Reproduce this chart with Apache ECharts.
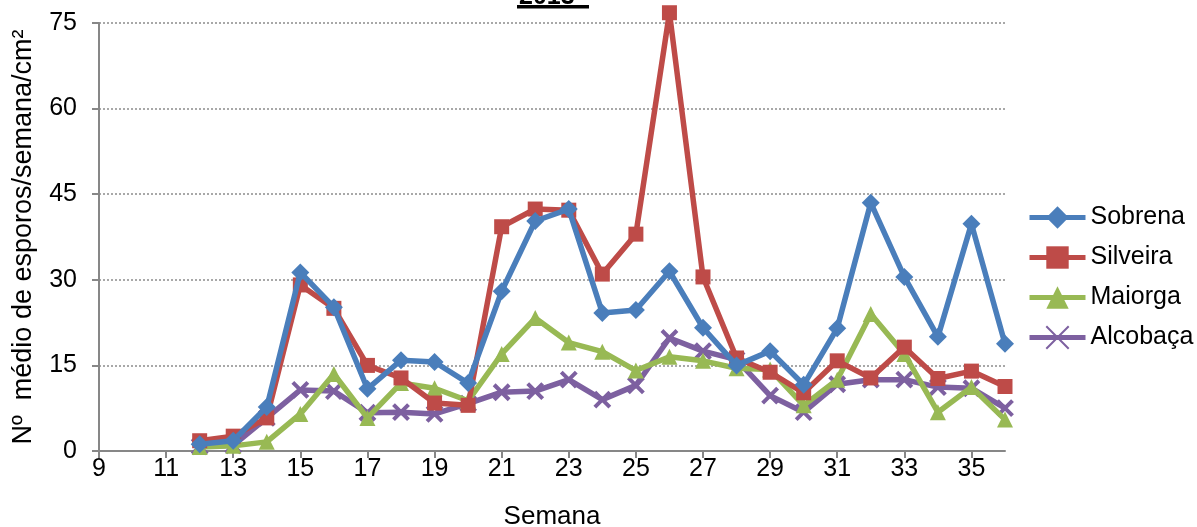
<!DOCTYPE html>
<html><head><meta charset="utf-8">
<script src="https://cdn.jsdelivr.net/npm/echarts@6/dist/echarts.min.js"></script>
<style>html,body{margin:0;padding:0;background:#fff}#c{width:1197px;height:527px}</style>
</head><body><div id="c"></div>
<script>
const weeks = [9,10,11,12,13,14,15,16,17,18,19,20,21,22,23,24,25,26,27,28,29,30,31,32,33,34,35,36];
const sobrena  = [null,null,null,1.2,1.8,7.7,31.3,25.2,10.9,15.9,15.6,11.9,28.0,40.3,42.4,24.2,24.7,31.5,21.6,15.0,17.5,11.6,21.5,43.5,30.5,20.0,39.8,18.8];
const silveira = [null,null,null,1.8,2.6,5.8,29.1,25.0,15.0,12.8,8.4,8.0,39.3,42.4,42.2,31.0,38.0,76.8,30.5,16.3,13.8,10.2,15.8,12.8,18.2,12.7,14.0,11.3];
const maiorga  = [null,null,null,0.7,0.9,1.6,6.5,13.5,5.8,11.9,11.0,8.8,17.0,23.3,19.0,17.4,14.1,16.5,15.8,14.5,14.3,8.0,12.5,24.0,17.0,6.8,11.2,5.5];
const alcobaca = [null,null,null,0.8,1.0,5.8,10.7,10.5,6.7,6.8,6.5,8.3,10.3,10.5,12.5,9.0,11.5,19.8,17.5,16.0,9.7,6.8,11.7,12.5,12.5,11.2,11.0,7.5];
const seriesNames = ['Sobrena','Silveira','Maiorga','Alcobaça'];
const colors = ['#4A7EBB','#BE4B48','#98B954','#7D60A0'];
const symbols = ['diamond','rect','triangle','path://M0,0 L2,2 M2,0 L0,2'];
const symbolSizes = [18,15,16,15];
const dataSets = [sobrena, silveira, maiorga, alcobaca];

const chart = echarts.init(document.getElementById('c'));
const font = 'Arial, "Liberation Sans", sans-serif';
chart.setOption({
  animation:false,
  grid:{left:99,right:192,top:23,bottom:76,containLabel:false,outerBoundsMode:'none'},
  legend:{
    orient:'vertical', left:1022, top:200, itemGap:15, itemWidth:56, itemHeight:28,
    textStyle:{fontFamily:font,fontSize:25,color:'#000'},
    lineStyle:{width:5},
    data:seriesNames
  },
  xAxis:{
    type:'category', data:weeks.map(String), boundaryGap:false,
    name:'Semana', nameLocation:'middle', nameGap:53,
    nameTextStyle:{fontFamily:font,fontSize:26,color:'#000'},
    axisLine:{lineStyle:{color:'#878787',width:2}},
    axisTick:{show:true,interval:1,length:7,lineStyle:{color:'#878787',width:2}},
    axisLabel:{interval:1,fontFamily:font,fontSize:25,color:'#000',margin:6},
    splitLine:{show:false}
  },
  yAxis:{
    type:'value', min:0, max:75, interval:15,
    name:'Nº  médio de esporos/semana/cm²', nameLocation:'middle', nameGap:62, nameRotate:90,
    nameTextStyle:{fontFamily:font,fontSize:27,color:'#000'},
    axisLine:{show:true,lineStyle:{color:'#878787',width:2}},
    axisTick:{show:true,length:7,lineStyle:{color:'#878787',width:2}},
    axisLabel:{fontFamily:font,fontSize:25,color:'#000',margin:22},
    splitLine:{show:true,lineStyle:{color:'#8c8c8c',type:[2,2],width:1.5}}
  },
  graphic:[
    {type:'text',left:519,top:-15,style:{text:'2013',fontFamily:font,fontSize:25,fontWeight:'bold',fill:'#000'}},
    {type:'rect',shape:{x:517,y:5,width:72,height:3.5},style:{fill:'#000'}}
  ],
  series:dataSets.map((d,i)=>({
    name:seriesNames[i], type:'line', data:d, connectNulls:false, clip:false,
    symbol:symbols[i], symbolSize:symbolSizes[i],
    itemStyle:{color:colors[i],borderColor:colors[i],borderWidth:i===3?4:0},
    lineStyle:{color:colors[i],width:5.5},
    z:10-i
  }))
});
</script></body></html>
